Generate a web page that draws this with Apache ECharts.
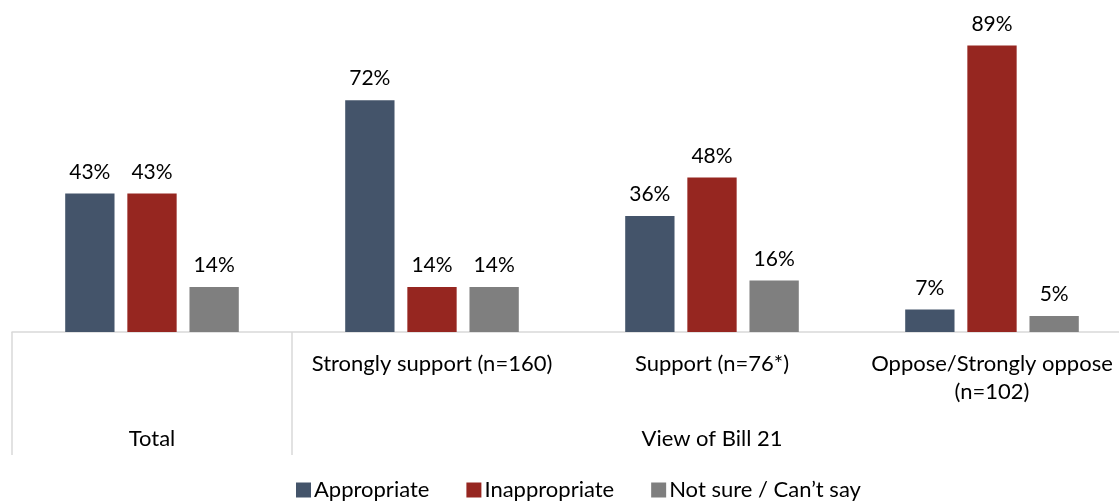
<!DOCTYPE html>
<html>
<head>
<meta charset="utf-8">
<script src="https://cdn.jsdelivr.net/npm/echarts@6/dist/echarts.min.js"></script>
<style>
html,body{margin:0;padding:0;background:#fff;overflow:hidden;}
#c{width:1140px;height:504px;}
</style>
</head>
<body>
<div id="c"></div>
<script>
var categories = ['', 'Strongly support (n=160)', 'Support (n=76*)', 'Oppose/Strongly oppose\n(n=102)'];
var groupLabels = ['Total', '', 'View of Bill 21', ''];
var seriesNames = ['Appropriate', 'Inappropriate', 'Not sure / Can\u2019t say'];
var appropriate = [43, 72, 36, 7];
var inappropriate = [43, 14, 48, 89];
var notSure = [14, 14, 16, 5];
var colors = ['#44546a', '#962620', '#7f7f7f'];

var FONT = 'Lato';
var chart = echarts.init(document.getElementById('c'), null, {renderer: 'canvas'});
function mk(name, data, color) {
  return {
    name: name, type: 'bar', data: data, xAxisIndex: 0,
    barGap: '26%', barCategoryGap: '38%',
    itemStyle: {color: color},
    label: {show: true, position: 'top', distance: 11, formatter: '{c}%',
      color: '#000', fontSize: 21, fontFamily: FONT}
  };
}
chart.setOption({
  animation: false,
  textStyle: {fontFamily: FONT},
  grid: {left: 12, right: 8, top: 10, bottom: 172, containLabel: false},
  legend: {
    left: 291, top: 474, itemWidth: 15, itemHeight: 15, itemGap: 37,
    icon: 'rect',
    textStyle: {fontSize: 22, color: '#000', fontFamily: FONT, padding: [0, 0, 0, -2]},
    data: seriesNames
  },
  xAxis: [{
    type: 'category', data: categories, position: 'bottom',
    axisLine: {show: true, lineStyle: {color: '#d9d9d9', width: 1.5}},
    axisTick: {show: true, length: 123, alignWithLabel: false,
      interval: function (i) { return i === 0 || i === 1; },
      lineStyle: {color: '#d9d9d9', width: 1.5}},
    axisLabel: {interval: 0, margin: 18, fontSize: 22, color: '#000', fontFamily: FONT, lineHeight: 28}
  }, {
    type: 'category', data: groupLabels, position: 'bottom',
    axisLine: {show: false}, axisTick: {show: false},
    axisLabel: {interval: 0, margin: 96, fontSize: 22, color: '#000', fontFamily: FONT}
  }],
  yAxis: {type: 'value', min: 0, max: 100, show: false, splitLine: {show: false}},
  series: [mk(seriesNames[0], appropriate, colors[0]),
           mk(seriesNames[1], inappropriate, colors[1]),
           mk(seriesNames[2], notSure, colors[2])]
});
</script>
</body>
</html>
